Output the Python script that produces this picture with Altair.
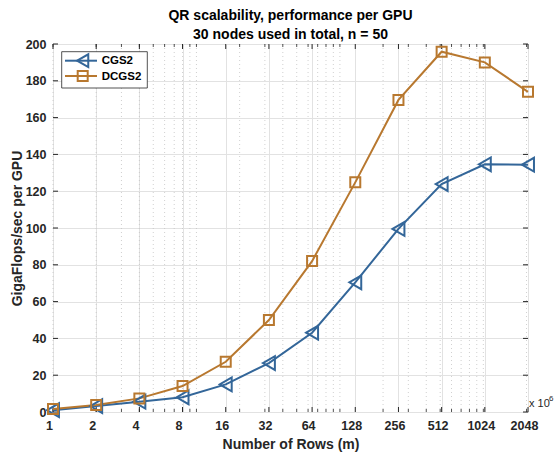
import altair as alt
import pandas as pd

# ---- data ----
rows = [1, 2, 4, 8, 16, 32, 64, 128, 256, 512, 1024, 2048]
cgs2 = [1.0, 3.2, 5.6, 8.0, 15.0, 26.6, 43.1, 70.5, 99.5, 123.9, 134.6, 134.4]
dcgs2 = [1.6, 3.8, 7.4, 14.1, 27.3, 50.0, 82.0, 124.8, 169.6, 195.8, 190.0, 174.0]
series = ["CGS2", "DCGS2"]
colors = ["#336699", "#B8782F"]
shapes = ["triangle-left", "square"]
y_ticks = [0, 20, 40, 60, 80, 100, 120, 140, 160, 180, 200]
minor_x = [1, 2, 3, 4, 5, 6, 7, 8, 9,
           10, 20, 30, 40, 50, 60, 70, 80, 90,
           100, 200, 300, 400, 500, 600, 700, 800, 900,
           1000, 2000]

W, H = 475, 368
FONT = "Liberation Sans"
TXT = "#262626"

df = pd.DataFrame({
    "rows": rows * 2,
    "value": cgs2 + dcgs2,
    "series": [series[0]] * len(rows) + [series[1]] * len(rows),
})
df_minor = pd.DataFrame({"rows": minor_x})
df_major = pd.DataFrame({"rows": rows})
df_yt = pd.DataFrame({"value": y_ticks})

xscale = alt.Scale(type="log", base=2, domain=[1, 2048], nice=False)
yscale = alt.Scale(domain=[0, 200], nice=False, zero=False)
cscale = alt.Scale(domain=series, range=colors)
sscale = alt.Scale(domain=series, range=shapes)

x_axis = alt.Axis(values=rows, format="d", title="Number of Rows (m)",
                  grid=True, gridColor="#e2e2e2", gridWidth=1,
                  ticks=False, domain=False, labelOffset=-4, labelPadding=7,
                  labelFont=FONT, labelFontSize=12.5, labelFontWeight="bold", labelColor=TXT,
                  titleFont=FONT, titleFontSize=14, titleFontWeight="bold", titleColor=TXT,
                  titlePadding=6, labelFlush=False, labelOverlap=False)
y_axis = alt.Axis(values=y_ticks, title="GigaFlops/sec per GPU",
                  grid=True, gridColor="#e2e2e2", gridWidth=1,
                  ticks=False, domain=False, labelPadding=7,
                  labelFont=FONT, labelFontSize=12.5, labelFontWeight="bold", labelColor=TXT,
                  titleFont=FONT, titleFontSize=14, titleFontWeight="bold", titleColor=TXT,
                  titlePadding=1, labelOverlap=False)

X = alt.X("rows:Q", scale=xscale, axis=x_axis)
Y = alt.Y("value:Q", scale=yscale, axis=y_axis)

# minor dotted grid (log10 style)
minor_grid = alt.Chart(df_minor).mark_rule(color="#c4c4c4", strokeWidth=0.8, strokeDash=[1, 3]).encode(
    x=X, y=alt.value(0), y2=alt.value(H))

# inward ticks
minor_tick_b = alt.Chart(df_minor).mark_rule(color=TXT, strokeWidth=0.8).encode(
    x=X, y=alt.value(H), y2=alt.value(H - 3))
minor_tick_t = alt.Chart(df_minor).mark_rule(color=TXT, strokeWidth=0.8).encode(
    x=X, y=alt.value(0), y2=alt.value(3))
major_tick_b = alt.Chart(df_major).mark_rule(color=TXT, strokeWidth=1).encode(
    x=X, y=alt.value(H), y2=alt.value(H - 5))
major_tick_t = alt.Chart(df_major).mark_rule(color=TXT, strokeWidth=1).encode(
    x=X, y=alt.value(0), y2=alt.value(5))
ytick_l = alt.Chart(df_yt).mark_rule(color=TXT, strokeWidth=1).encode(
    y=Y, x=alt.value(0), x2=alt.value(5))
ytick_r = alt.Chart(df_yt).mark_rule(color=TXT, strokeWidth=1).encode(
    y=Y, x=alt.value(W - 5), x2=alt.value(W))

lines = alt.Chart(df).mark_line(strokeWidth=2).encode(
    x=X, y=Y,
    color=alt.Color("series:N", scale=cscale, legend=None),
    order=alt.Order("rows:Q"),
)
points = alt.Chart(df).mark_point(filled=False, strokeWidth=2, opacity=1).encode(
    x=X, y=Y,
    color=alt.Color("series:N", scale=cscale, legend=None),
    shape=alt.Shape("series:N", scale=sscale, legend=None),
    size=alt.Size("series:N", scale=alt.Scale(domain=series, range=[190, 100]), legend=None),
)

# manual legend
one = pd.DataFrame({"k": [0]})
leg_box = alt.Chart(one).mark_rect(fill="white", stroke=TXT, strokeWidth=0.8).encode(
    x=alt.value(8.7), x2=alt.value(94.3), y=alt.value(7.7), y2=alt.value(44))
legend_layers = [leg_box]
for i, s in enumerate(series):
    yy = 16.7 + 15.3 * i
    d = pd.DataFrame({"series": [s]})
    legend_layers.append(alt.Chart(d).mark_rule(color=colors[i], strokeWidth=2).encode(
        x=alt.value(12), x2=alt.value(44), y=alt.value(yy)))
    legend_layers.append(alt.Chart(d).mark_point(shape=shapes[i], filled=False, color=colors[i],
                                                 strokeWidth=2, opacity=1,
                                                 size=[165, 100][i]).encode(
        x=alt.value(29.7), y=alt.value(yy)))
    legend_layers.append(alt.Chart(d).mark_text(align="left", baseline="middle", font=FONT,
                                                fontSize=11.5, fontWeight="bold", color="black").encode(
        x=alt.value(48.7), y=alt.value(yy + 0.5), text="series:N"))

exp_label = alt.Chart(one).mark_text(align="left", baseline="middle", font=FONT,
                                     fontSize=11, color=TXT, text="x 10").encode(
    x=alt.value(W + 1), y=alt.value(H - 8))
exp_sup = alt.Chart(one).mark_text(align="left", baseline="middle", font=FONT,
                                   fontSize=8, color=TXT, text="6").encode(
    x=alt.value(W + 21), y=alt.value(H - 13))

chart = alt.layer(
    minor_grid, minor_tick_b, minor_tick_t, major_tick_b, major_tick_t, ytick_l, ytick_r,
    lines, points, *legend_layers, exp_label, exp_sup
).properties(
    width=W, height=H,
    title=alt.TitleParams(
        ["QR scalability, performance per GPU", "30 nodes used in total, n = 50"],
        font=FONT, fontSize=14, fontWeight="bold", color="black",
        lineHeight=19, offset=-4, anchor="middle"),
    autosize=alt.AutoSizeParams(type="none"),
    padding={"left": 53, "top": 44, "right": 27, "bottom": 43},
).configure_view(stroke=TXT, strokeWidth=1).configure(background="white")

chart.save("out.html", embed_options={"renderer": "svg", "actions": False})
